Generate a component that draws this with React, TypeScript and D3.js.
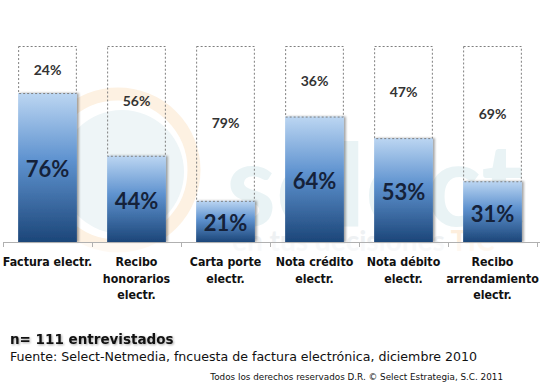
import React, { useEffect, useRef } from 'react';
import * as d3 from 'd3';

// chart data
const categories = [
  ['Factura electr.'],
  ['Recibo', 'honorarios', 'electr.'],
  ['Carta porte', 'electr.'],
  ['Nota crédito', 'electr.'],
  ['Nota débito', 'electr.'],
  ['Recibo', 'arrendamiento', 'electr.'],
];
const yesValues = [76, 44, 21, 64, 53, 31];
const noValues = [24, 56, 79, 36, 47, 69];

const W = 544;
const H = 384;

export default function App() {
  const svgRef = useRef<SVGSVGElement>(null);

  useEffect(() => {
    if (!svgRef.current) return;
    const svg = d3.select(svgRef.current);
    svg.selectAll('*').remove();

    const defs = svg.append('defs');
    const grad = defs.append('linearGradient')
      .attr('id', 'barGrad')
      .attr('x1', 0).attr('y1', 0).attr('x2', 0).attr('y2', 1);
    grad.append('stop').attr('offset', '0%').attr('stop-color', '#bcd6f2');
    grad.append('stop').attr('offset', '45%').attr('stop-color', '#5e92cf');
    grad.append('stop').attr('offset', '100%').attr('stop-color', '#1c4679');

    const shadow = defs.append('filter').attr('id', 'shadow')
      .attr('x', '-10%').attr('y', '-10%').attr('width', '130%').attr('height', '130%');
    shadow.append('feDropShadow')
      .attr('dx', 2).attr('dy', 0).attr('stdDeviation', 1)
      .attr('flood-color', '#000').attr('flood-opacity', 0.35);

    // watermark (logo behind the chart)
    const wm = svg.append('g');
    wm.append('circle').attr('cx', 118).attr('cy', 170).attr('r', 76)
      .attr('fill', 'none').attr('stroke', '#fdf1e2').attr('stroke-width', 13);
    wm.append('circle').attr('cx', 122).attr('cy', 172).attr('r', 62)
      .attr('fill', '#eef5f7');
    wm.append('text').attr('x', 226).attr('y', 226)
      .attr('fill', '#e9f3f5')
      .style('font-family', 'Lato, sans-serif').style('font-weight', 700)
      .style('font-size', '114px')
      .text('select');
    const tag = wm.append('text').attr('x', 232).attr('y', 251)
      .style('font-family', 'Lato, sans-serif').style('font-weight', 700)
      .style('font-size', '28px');
    tag.append('tspan').attr('fill', '#eef1f3').text('en tus decisiones ');
    tag.append('tspan').attr('fill', '#fdeedd').text('TIC');

    const x = d3.scaleBand<number>()
      .domain(d3.range(categories.length))
      .range([3, 537])
      .paddingInner(0.34)
      .paddingOuter(0.17);
    const y = d3.scaleLinear().domain([0, 100]).range([242, 46]);

    const g = svg.append('g');

    // white band below axis so the labels sit on a clean background
    g.append('rect').attr('x', 0).attr('y', 243).attr('width', W).attr('height', H - 243)
      .attr('fill', '#fff').attr('opacity', 0.6);

    // bars
    yesValues.forEach((v, i) => {
      const bx = x(i)!;
      g.append('rect')
        .attr('x', bx).attr('y', y(v))
        .attr('width', x.bandwidth()).attr('height', y(0) - y(v))
        .attr('fill', 'url(#barGrad)')
        .attr('filter', 'url(#shadow)');
    });

    // dotted boxes for the complement
    noValues.forEach((v, i) => {
      const bx = x(i)!;
      const top = y(100);
      const bottom = y(yesValues[i]);
      g.append('rect')
        .attr('x', bx + 0.5).attr('y', top + 0.5)
        .attr('width', x.bandwidth() - 1).attr('height', bottom - top)
        .attr('fill', 'none')
        .attr('stroke', '#7f7f7f')
        .attr('stroke-width', 1)
        .attr('stroke-dasharray', '2,2');
      g.append('text')
        .attr('x', bx + x.bandwidth() / 2)
        .attr('y', (top + bottom) / 2)
        .attr('dy', '0.36em')
        .attr('text-anchor', 'middle')
        .attr('fill', '#333')
        .style('font-family', 'Lato, sans-serif').style('font-weight', 700)
        .style('font-size', '14px')
        .text(`${v}%`);
    });

    // bar value labels
    yesValues.forEach((v, i) => {
      g.append('text')
        .attr('x', x(i)! + x.bandwidth() / 2)
        .attr('y', (y(v) + y(0)) / 2 + 2)
        .attr('dy', '0.36em')
        .attr('text-anchor', 'middle')
        .attr('fill', '#15223a')
        .style('font-family', 'Lato, sans-serif').style('font-weight', 700)
        .style('font-size', '22px')
        .text(`${v}%`);
    });

    // axis
    g.append('line')
      .attr('x1', 3).attr('x2', 540).attr('y1', 242.5).attr('y2', 242.5)
      .attr('stroke', '#b0b0b0');
    const edges = d3.range(categories.length + 1).map(i => 3 + i * x.step());
    edges.forEach(e => {
      g.append('line')
        .attr('x1', Math.round(e) + 0.5).attr('x2', Math.round(e) + 0.5)
        .attr('y1', 242).attr('y2', 247)
        .attr('stroke', '#b0b0b0');
    });

    // category labels
    categories.forEach((lines, i) => {
      const t = g.append('text')
        .attr('text-anchor', 'middle')
        .attr('fill', '#111')
        .style('font-family', '"DejaVu Sans Condensed", "DejaVu Sans", sans-serif')
        .style('font-stretch', 'condensed')
        .style('font-weight', 700)
        .style('font-size', '12.3px');
      lines.forEach((l, k) => {
        t.append('tspan')
          .attr('x', x(i)! + x.bandwidth() / 2)
          .attr('y', 266 + k * 16.5)
          .text(l);
      });
    });

    // footer
    svg.append('text')
      .attr('x', 10).attr('y', 344)
      .attr('fill', '#111')
      .style('font-family', '"DejaVu Sans", sans-serif').style('font-weight', 700)
      .style('font-size', '13.5px')
      .style('filter', 'drop-shadow(1px 1px 1px rgba(0,0,0,0.35))')
      .text('n= 111 entrevistados');
    svg.append('text')
      .attr('x', 10).attr('y', 361)
      .attr('fill', '#111')
      .style('font-family', '"DejaVu Sans", sans-serif')
      .style('font-size', '12.6px')
      .text('Fuente: Select-Netmedia, fncuesta de factura electrónica, diciembre 2010');
    svg.append('text')
      .attr('x', 503).attr('y', 380)
      .attr('text-anchor', 'end')
      .attr('fill', '#111')
      .style('font-family', '"DejaVu Sans", sans-serif')
      .style('font-size', '8.8px')
      .text('Todos los derechos reservados D.R. © Select Estrategia, S.C. 2011');
  }, []);

  return (
    <svg
      ref={svgRef}
      width={W}
      height={H}
      viewBox={`0 0 ${W} ${H}`}
      style={{ position: 'absolute', left: 0, top: 0, background: '#fff', display: 'block' }}
    />
  );
}
